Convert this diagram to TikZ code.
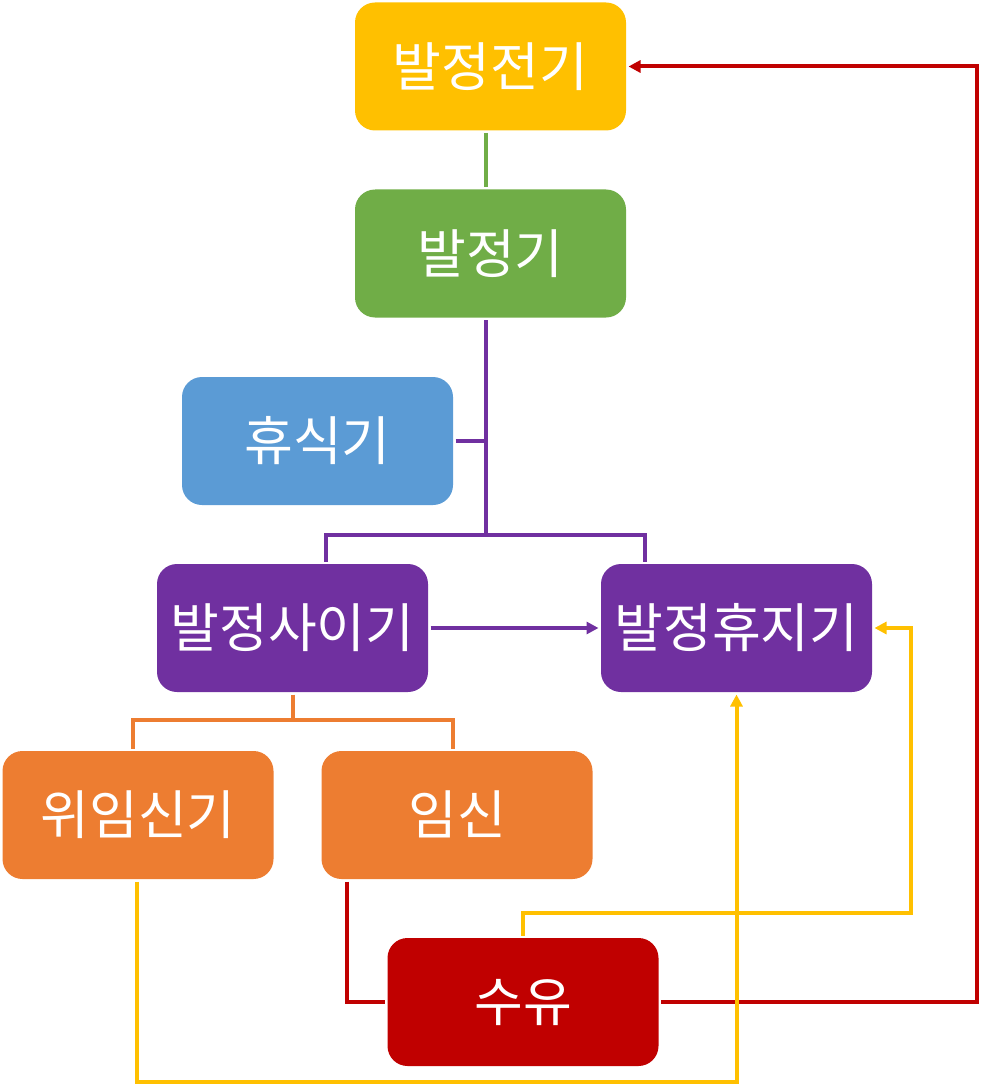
\documentclass[tikz,border=0pt]{standalone}
\usepackage{fontspec}
\setmainfont{Noto Sans CJK KR}
\usetikzlibrary{arrows.meta}
\definecolor{cyel}{HTML}{FFC000}
\definecolor{cgrn}{HTML}{70AD47}
\definecolor{cblu}{HTML}{5B9BD5}
\definecolor{cpur}{HTML}{7030A0}
\definecolor{cora}{HTML}{ED7D31}
\definecolor{cred}{HTML}{C00000}
\newcommand{\bt}[1]{\raisebox{4pt}{#1}}
\begin{document}
\begin{tikzpicture}[x=1pt,y=-1pt,
  box/.style={rectangle, rounded corners=20pt, minimum width=271pt, minimum height=128pt,
    text=white, font=\fontsize{53}{60}\selectfont, inner sep=0pt, outer sep=2.5pt},
  conn/.style={line width=4pt},
  tip/.style={-{Triangle[length=12pt,width=12pt]}}]
\useasboundingbox (0,0) rectangle (981,1086);
\node[box, fill=cyel] (pre) at (490.5,66.5) {\bt{발정전기}};
\node[box, fill=cgrn] (est) at (490.5,253.5) {\bt{발정기}};
\node[box, fill=cblu] (rest) at (317.5,441) {\bt{휴식기}};
\node[box, fill=cpur] (die) at (292.5,628) {\bt{발정사이기}};
\node[box, fill=cpur] (ane) at (736.5,628) {\bt{발정휴지기}};
\node[box, fill=cora] (pse) at (138,815) {\bt{위임신기}};
\node[box, fill=cora] (prg) at (457,815) {\bt{임신}};
\node[box, fill=cred] (lac) at (523,1002) {\bt{수유}};
\coordinate (j1) at (486,535);
\coordinate (j2) at (292.5,720);
\coordinate (r1) at (977,0);
\coordinate (y1) at (911,913);
\coordinate (y2) at (736.5,1082);
% green
\draw[conn, cgrn] ([xshift=-4.5pt]pre.south) -- ([xshift=-4.5pt]est.north);
% purple
\draw[conn, cpur] ([xshift=-4.5pt]est.south) -- (j1);
\draw[conn, cpur] (j1) -| ([xshift=33.5pt]die.north);
\draw[conn, cpur] (j1) -| ([xshift=-91.5pt]ane.north);
\draw[conn, cpur] (rest.east) -- (rest.east -| j1);
\draw[conn, cpur, tip] (die.east) -- (ane.west);
% orange
\draw[conn, cora] (die.south) -- (j2);
\draw[conn, cora] (j2) -| ([xshift=-5pt]pse.north);
\draw[conn, cora] (j2) -| ([xshift=-4pt]prg.north);
% red
\draw[conn, cred] ([xshift=-110pt]prg.south) |- (lac.west);
\draw[conn, cred, tip] (lac.east) -- (lac.east -| r1) -- (pre.east -| r1) -- (pre.east);
% yellow
\draw[conn, cyel, tip] (lac.north) |- (y1) |- (ane.east);
\draw[conn, cyel, tip] ([xshift=-1pt]pse.south) |- (y2) -- (ane.south);
\end{tikzpicture}
\end{document}
